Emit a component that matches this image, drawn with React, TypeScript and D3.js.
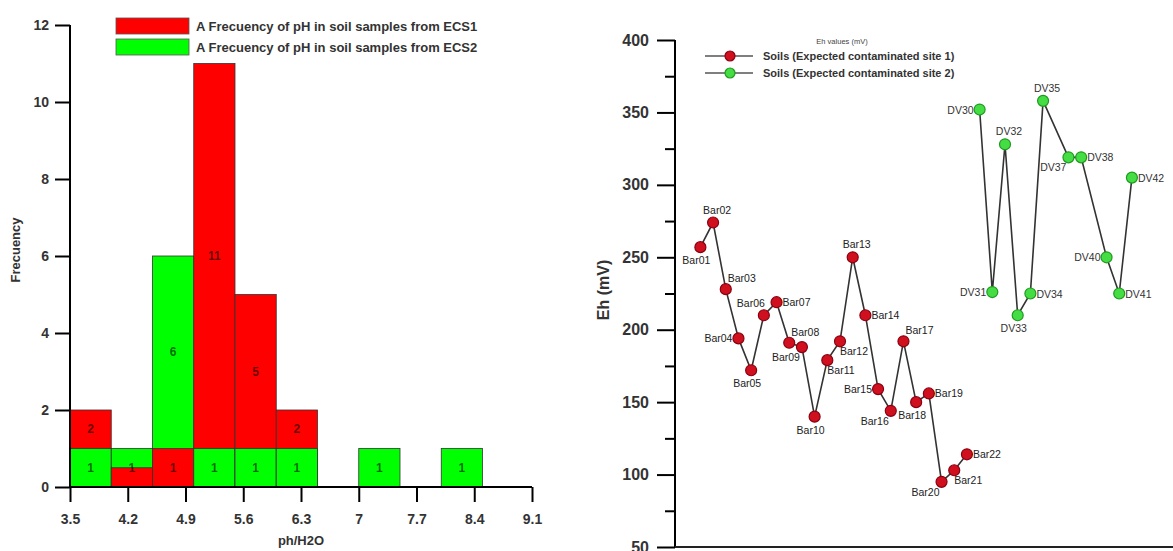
import * as d3 from 'd3';
import React, { useEffect, useRef } from 'react';

// left panel: pH histogram (bins of 0.5 starting at binStarts)
const binStarts = [3.5, 4.0, 4.5, 5.0, 5.5, 6.0, 6.5, 7.0, 7.5, 8.0];
const ecs1Counts = [2, 0.5, 1, 11, 5, 2, 0, 0, 0, 0];
const ecs2Counts = [1, 1, 6, 1, 1, 1, 0, 1, 0, 1];
const phTicks = [3.5, 4.2, 4.9, 5.6, 6.3, 7, 7.7, 8.4, 9.1];
const freqTicks = [0, 2, 4, 6, 8, 10, 12];
const histLegend = [
  'A Frecuency of pH in soil samples from ECS1',
  'A Frecuency of pH in soil samples from ECS2',
];

// right panel: Eh values per sample
const site1Names = ['Bar01', 'Bar02', 'Bar03', 'Bar04', 'Bar05', 'Bar06', 'Bar07', 'Bar08', 'Bar09', 'Bar10', 'Bar11',
  'Bar12', 'Bar13', 'Bar14', 'Bar15', 'Bar16', 'Bar17', 'Bar18', 'Bar19', 'Bar20', 'Bar21', 'Bar22'];
const site1Index = [1, 2, 3, 4, 5, 6, 7, 8, 9, 10, 11, 12, 13, 14, 15, 16, 17, 18, 19, 20, 21, 22];
const site1Eh = [257, 274, 228, 194, 172, 210, 219, 191, 188, 140, 179, 192, 250, 210, 159, 144, 192, 150, 156, 95, 103, 114];
const site1LabelPos = ['b', 't', 'tr', 'l', 'b', 'tl', 'r', 'tr', 'bl', 'b', 'br', 'br', 't', 'r', 'l', 'bl', 'tr', 'b', 'r', 'bl', 'br', 'r'];

const site2Names = ['DV30', 'DV31', 'DV32', 'DV33', 'DV34', 'DV35', 'DV37', 'DV38', 'DV40', 'DV41', 'DV42'];
const site2Index = [23, 24, 25, 26, 27, 28, 30, 31, 33, 34, 35];
const site2Eh = [352, 226, 328, 210, 225, 358, 319, 319, 250, 225, 305];
const site2LabelPos = ['l', 'l', 't', 'b', 'r', 't', 'bl', 'r', 'l', 'r', 'r'];

const ehTicks = [50, 100, 150, 200, 250, 300, 350, 400];
const ehMinor = [75, 125, 175, 225, 275, 325, 375];
const ehLegend = ['Soils (Expected contaminated site 1)', 'Soils (Expected contaminated site 2)'];

const FONT = 'Arial, "Liberation Sans", sans-serif';
const RED = '#ff0000';
const GREEN = '#00ff00';

const labelOffsets = {
  t: { a: 'middle', dx: 4, dy: -9 },
  b: { a: 'middle', dx: -4, dy: 17 },
  l: { a: 'end', dx: -6, dy: 4 },
  r: { a: 'start', dx: 6, dy: 4 },
  tr: { a: 'start', dx: 2, dy: -7 },
  tl: { a: 'end', dx: 1, dy: -8 },
  br: { a: 'start', dx: 0, dy: 14 },
  bl: { a: 'end', dx: -2, dy: 14 },
};

const App = () => {
  const ref = useRef(null);

  useEffect(() => {
    const svg = d3.select(ref.current);
    svg.selectAll('*').remove();

    // ---------- histogram ----------
    const x = d3.scaleLinear().domain([3.5, 9.1]).range([70, 532]);
    const y = d3.scaleLinear().domain([0, 12]).range([487, 25]);
    const h = svg.append('g');

    const bins = binStarts.map((s, i) => ({ s, a: ecs1Counts[i], b: ecs2Counts[i] }));
    bins.forEach((d) => {
      const bars = [
        { v: d.a, c: RED },
        { v: d.b, c: GREEN },
      ].filter((e) => e.v > 0).sort((p, q) => q.v - p.v);
      bars.forEach((bar) => {
        h.append('rect')
          .attr('x', x(d.s))
          .attr('width', x(d.s + 0.5) - x(d.s))
          .attr('y', y(bar.v))
          .attr('height', y(0) - y(bar.v))
          .attr('fill', bar.c)
          .attr('stroke', '#333')
          .attr('stroke-width', 0.8);
      });
      bars.forEach((bar, i) => {
        if (bar.v % 1 !== 0) return;
        const front = bars[i + 1] ? bars[i + 1].v : 0;
        const mid = bar.v - front >= 0.9 ? (bar.v + front) / 2 : bar.v / 2;
        h.append('text')
          .attr('x', x(d.s + 0.25))
          .attr('y', y(mid) + 4)
          .attr('text-anchor', 'middle')
          .attr('font-size', 12)
          .attr('font-weight', 'bold')
          .attr('fill', 'rgba(0,0,0,0.6)')
          .text(bar.v);
      });
    });

    // axes
    h.append('g')
      .attr('transform', 'translate(0,' + y(0) + ')')
      .call(d3.axisBottom(x).tickValues(phTicks).tickSize(15).tickPadding(12).tickFormat((d) => String(d)))
      .call((g) => g.select('.domain').attr('stroke-width', 2).attr('d', 'M70,0H532'))
      .call((g) => g.selectAll('.tick line').attr('stroke-width', 2))
      .call((g) => g.selectAll('text').attr('font-size', 14).attr('font-weight', 'bold').attr('fill', '#333').attr('font-family', FONT));
    h.append('g')
      .attr('transform', 'translate(70,0)')
      .call(d3.axisLeft(y).tickValues(freqTicks).tickSize(15).tickPadding(6))
      .call((g) => g.select('.domain').attr('stroke-width', 2).attr('d', 'M0,' + y(12) + 'V' + y(0)))
      .call((g) => g.selectAll('.tick line').attr('stroke-width', 2))
      .call((g) => g.selectAll('text').attr('font-size', 14).attr('font-weight', 'bold').attr('fill', '#333').attr('font-family', FONT));

    h.append('text')
      .attr('x', 301).attr('y', 545)
      .attr('text-anchor', 'middle')
      .attr('font-size', 13).attr('font-weight', 'bold').attr('fill', '#333')
      .text('ph/H2O');
    h.append('text')
      .attr('transform', 'translate(20,250) rotate(-90)')
      .attr('text-anchor', 'middle')
      .attr('font-size', 13).attr('font-weight', 'bold').attr('fill', '#333')
      .text('Frecuency');

    // legend
    [RED, GREEN].forEach((c, i) => {
      h.append('rect')
        .attr('x', 116).attr('y', 18 + i * 21)
        .attr('width', 73).attr('height', 16)
        .attr('fill', c).attr('stroke', '#555').attr('stroke-width', 0.8);
      h.append('text')
        .attr('x', 196).attr('y', 31 + i * 21)
        .attr('font-size', 13).attr('font-weight', 'bold').attr('fill', '#333')
        .text(histLegend[i]);
    });

    // ---------- Eh line chart ----------
    const ex = d3.scaleLinear().domain([-1, 38]).range([675, 1170]);
    const ey = d3.scaleLinear().domain([50, 400]).range([547, 40]);
    const r = svg.append('g');

    const line = d3.line().x((d) => ex(d.i)).y((d) => ey(d.v));
    const series = [
      { names: site1Names, idx: site1Index, vals: site1Eh, pos: site1LabelPos, fill: '#d0101e', edge: '#8a0010', txt: '#222' },
      { names: site2Names, idx: site2Index, vals: site2Eh, pos: site2LabelPos, fill: '#44dd44', edge: '#1f9a1f', txt: '#333' },
    ];
    series.forEach((s) => {
      const pts = s.vals.map((v, k) => ({ v, i: s.idx[k], n: s.names[k], p: s.pos[k] }));
      r.append('path').attr('d', line(pts)).attr('fill', 'none').attr('stroke', '#333').attr('stroke-width', 1.6);
      r.selectAll(null).data(pts).enter().append('circle')
        .attr('cx', (d) => ex(d.i)).attr('cy', (d) => ey(d.v)).attr('r', 5.5)
        .attr('fill', s.fill).attr('stroke', s.edge).attr('stroke-width', 1.2);
      r.selectAll(null).data(pts).enter().append('text')
        .attr('x', (d) => ex(d.i) + labelOffsets[d.p].dx)
        .attr('y', (d) => ey(d.v) + labelOffsets[d.p].dy)
        .attr('text-anchor', (d) => labelOffsets[d.p].a)
        .attr('font-size', 10.5).attr('fill', s.txt)
        .text((d) => d.n);
    });

    r.append('g')
      .attr('transform', 'translate(675,0)')
      .call(d3.axisLeft(ey).tickValues(ehTicks).tickSize(18).tickPadding(8))
      .call((g) => g.select('.domain').attr('stroke-width', 2).attr('d', 'M0,' + ey(400) + 'V' + ey(50)))
      .call((g) => g.selectAll('.tick line').attr('stroke-width', 2))
      .call((g) => g.selectAll('text').attr('font-size', 16).attr('font-weight', 'bold').attr('fill', '#333').attr('font-family', FONT));
    r.append('g')
      .attr('transform', 'translate(675,0)')
      .call(d3.axisLeft(ey).tickValues(ehMinor).tickSize(10).tickFormat(() => ''))
      .call((g) => g.select('.domain').remove())
      .call((g) => g.selectAll('.tick line').attr('stroke-width', 2));
    r.append('line')
      .attr('x1', 675).attr('x2', 1173).attr('y1', ey(50)).attr('y2', ey(50))
      .attr('stroke', '#222').attr('stroke-width', 2);

    r.append('text')
      .attr('transform', 'translate(609,290) rotate(-90)')
      .attr('text-anchor', 'middle')
      .attr('font-size', 16).attr('font-weight', 'bold').attr('fill', '#333')
      .text('Eh (mV)');

    // legend
    r.append('text')
      .attr('x', 842).attr('y', 44).attr('text-anchor', 'middle')
      .attr('font-size', 7.5).attr('fill', '#444')
      .text('Eh values (mV)');
    series.forEach((s, i) => {
      const ly = 56 + i * 17;
      r.append('line').attr('x1', 705).attr('x2', 753).attr('y1', ly).attr('y2', ly)
        .attr('stroke', '#555').attr('stroke-width', 1.5);
      r.append('circle').attr('cx', 730).attr('cy', ly).attr('r', 5)
        .attr('fill', s.fill).attr('stroke', s.edge).attr('stroke-width', 1.2);
      r.append('text').attr('x', 763).attr('y', ly + 4)
        .attr('font-size', 11).attr('font-weight', 'bold').attr('fill', '#333')
        .text(ehLegend[i]);
    });
  }, []);

  return (
    <svg ref={ref} width={1173} height={551}
      style={{ position: 'absolute', left: 0, top: 0, background: '#fff', fontFamily: FONT }} />
  );
};

export default App;
